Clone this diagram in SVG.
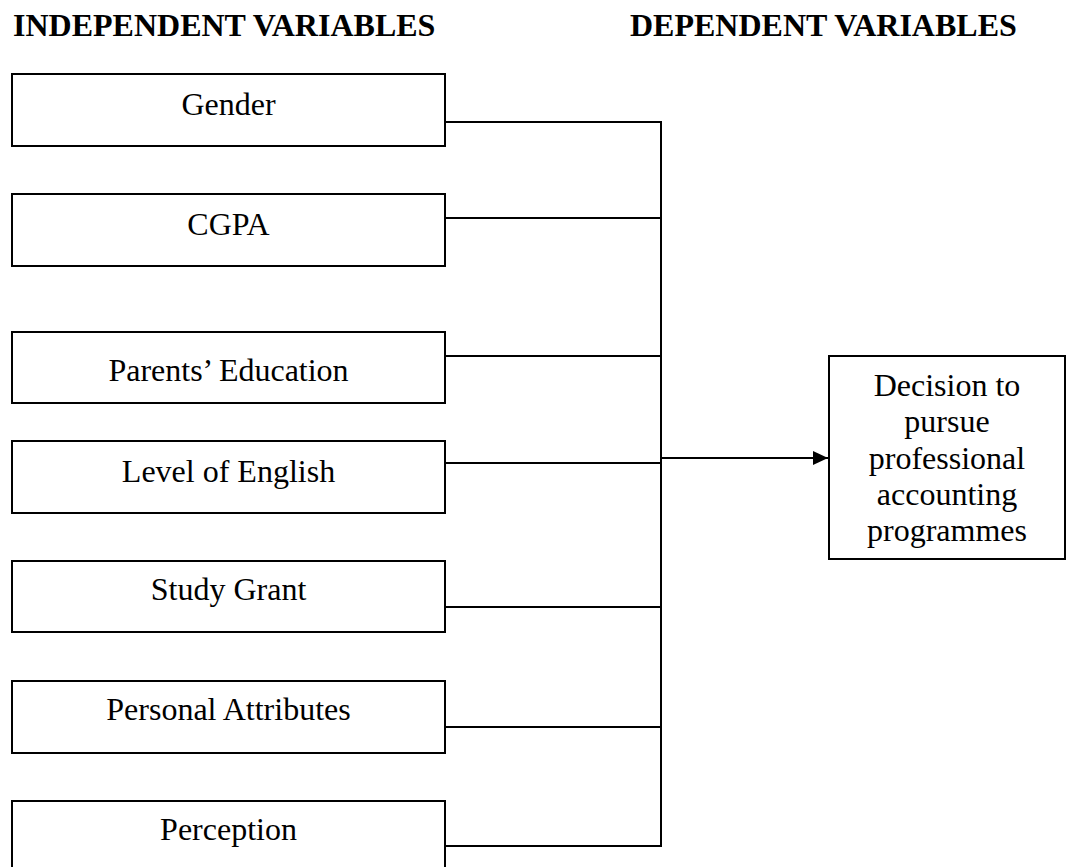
<svg xmlns="http://www.w3.org/2000/svg" width="1067" height="867" viewBox="0 0 1067 867">
<style>
.box{fill:#fff;stroke:#000;stroke-width:2}
.lbl{font-family:"Liberation Serif","Times New Roman",serif;font-size:32px;fill:#000;text-anchor:middle}
.hdr{font-family:"Liberation Serif","Times New Roman",serif;font-size:32px;font-weight:bold;fill:#000}
.conn{fill:none;stroke:#000;stroke-width:2}
</style>
<defs>
<marker id="arrow" markerWidth="16" markerHeight="14" refX="15" refY="7" orient="auto" markerUnits="userSpaceOnUse">
<path d="M0,0 L15,7 L0,14 Z" fill="#000"/>
</marker>
</defs>
<rect width="1067" height="867" fill="#fff"/>
<text class="hdr" x="13" y="36">INDEPENDENT VARIABLES</text>
<text class="hdr" x="630" y="36">DEPENDENT VARIABLES</text>
<g id="connectors">
<path class="conn" d="M445,122 H661 M445,218 H661 M445,356 H661 M445,463 H661 M445,607 H661 M445,727 H661 M445,846 H661 M661,121 V847"/>
<path class="conn" d="M661,458 H828" marker-end="url(#arrow)"/>
</g>
<g id="gender"><rect class="box" x="12" y="74" width="433" height="72"/><text class="lbl" x="228.5" y="115">Gender</text></g>
<g id="cgpa"><rect class="box" x="12" y="194" width="433" height="72"/><text class="lbl" x="228.5" y="235">CGPA</text></g>
<g id="parents"><rect class="box" x="12" y="332" width="433" height="71"/><text class="lbl" x="228.5" y="381">Parents’ Education</text></g>
<g id="english"><rect class="box" x="12" y="441" width="433" height="72"/><text class="lbl" x="228.5" y="482">Level of English</text></g>
<g id="grant"><rect class="box" x="12" y="561" width="433" height="71"/><text class="lbl" x="228.5" y="600">Study Grant</text></g>
<g id="attributes"><rect class="box" x="12" y="681" width="433" height="72"/><text class="lbl" x="228.5" y="720">Personal Attributes</text></g>
<g id="perception"><rect class="box" x="12" y="801" width="433" height="72"/><text class="lbl" x="228.5" y="840">Perception</text></g>
<g id="decision"><rect class="box" x="829" y="356" width="236" height="203"/>
<text class="lbl" x="947" y="396">Decision to</text>
<text class="lbl" x="947" y="432">pursue</text>
<text class="lbl" x="947" y="469">professional</text>
<text class="lbl" x="947" y="505">accounting</text>
<text class="lbl" x="947" y="541">programmes</text>
</g>
</svg>
